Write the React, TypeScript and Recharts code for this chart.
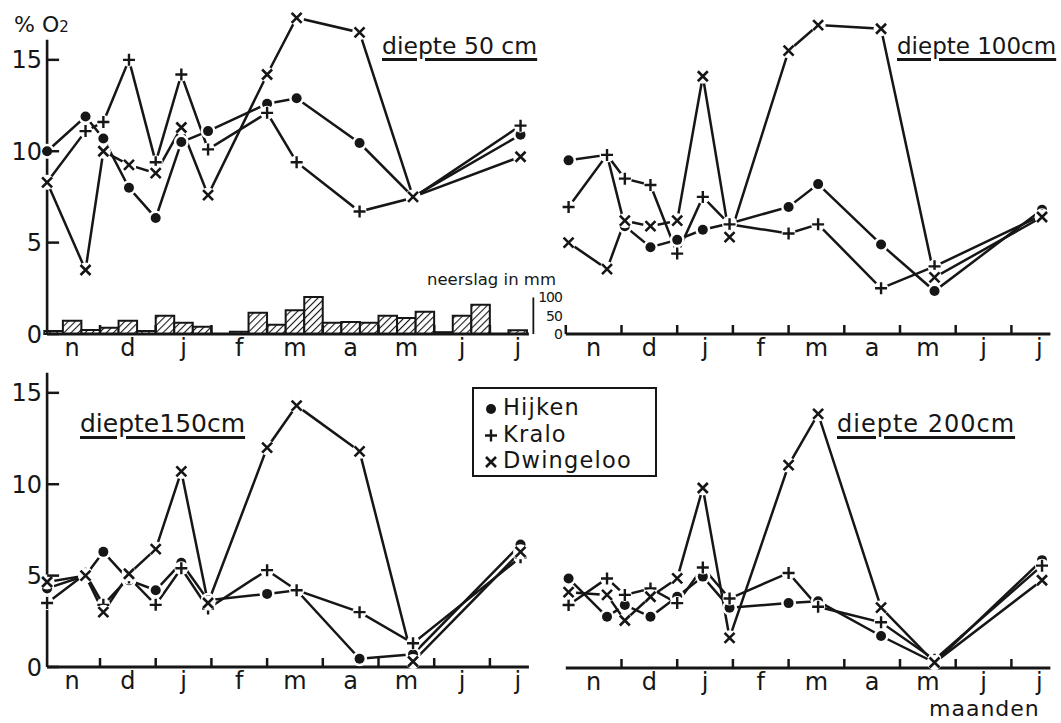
import React from "react";
import { ComposedChart, Line, Bar, XAxis, YAxis, ReferenceLine } from "recharts";

// sampling dates, in months counted from 1 November
const monthLabels = ["n", "d", "j", "f", "m", "a", "m", "j", "j"];
const sampleMonths = [0.05, 0.74, 1.06, 1.52, 2.0, 2.46, 2.94, 4.0, 4.53, 5.66, 6.62, 8.55];
const o2Ticks = [0, 5, 10, 15];
const precipTicks = [0, 50, 100];

// % O2 per depth and site
const hijken50 = [10.0, 11.9, 10.7, 8.0, 6.35, 10.5, 11.1, 12.6, 12.9, 10.45, 7.5, 10.9];
const kralo50 = [8.3, 11.1, 11.6, 15.0, 9.4, 14.2, 10.1, 12.1, 9.4, 6.7, 7.45, 11.4];
const dwingeloo50 = [8.3, 3.5, 10.0, 9.25, 8.8, 11.3, 7.6, 14.2, 17.3, 16.5, 7.5, 9.7];

const hijken100 = [9.5, 9.8, 5.9, 4.75, 5.15, 5.7, 6.05, 6.95, 8.2, 4.9, 2.35, 6.8];
const kralo100 = [6.95, 9.8, 8.5, 8.15, 4.4, 7.5, 6.0, 5.5, 6.0, 2.5, 3.7, 6.5];
const dwingeloo100 = [5.0, 3.55, 6.2, 5.9, 6.2, 14.1, 5.3, 15.5, 16.9, 16.7, 3.1, 6.4];

const hijken150 = [4.3, 5.0, 6.3, 4.75, 4.2, 5.7, 3.65, 4.0, 4.2, 0.45, 0.7, 6.7];
const kralo150 = [3.5, 5.1, 3.4, 4.9, 3.4, 5.4, 3.2, 5.3, 4.2, 3.0, 1.3, 6.0];
const dwingeloo150 = [4.65, 5.0, 3.0, 5.1, 6.45, 10.7, 3.5, 12.0, 14.3, 11.8, 0.3, 6.3];

const hijken200 = [4.9, 2.8, 3.45, 2.8, 3.9, 5.0, 3.3, 3.55, 3.65, 1.75, 0.3, 5.9];
const kralo200 = [3.45, 4.9, 4.0, 4.35, 3.55, 5.5, 3.8, 5.2, 3.35, 2.5, 0.45, 5.6];
const dwingeloo200 = [4.15, 4.0, 2.6, 3.9, 4.9, 9.85, 1.65, 11.1, 13.9, 3.3, 0.3, 4.8];

// neerslag per decade (mm), nov .. jul
const precipMm = [8, 36, 11, 17, 36, 8, 50, 31, 20, 0, 6, 58, 25, 65, 101, 31, 33, 31, 50, 44, 61, 5, 50, 80, 0, 10];

const INK = "#161616";
const FONT = "'DejaVu Sans', sans-serif";

const toPoints = (vals: number[]) => sampleMonths.map((m, i) => ({ m, v: vals[i] }));
const precipData = precipMm.map((mm, i) => ({ m: (i + 0.5) / 3, mm }));

function DotMark({ cx, cy }: any) {
  return (
    <g>
      <circle cx={cx} cy={cy} r={7.5} fill="#fff" />
      <circle cx={cx} cy={cy} r={5} fill={INK} />
    </g>
  );
}

function PlusMark({ cx, cy }: any) {
  const s = 6;
  return (
    <g>
      <circle cx={cx} cy={cy} r={7} fill="#fff" />
      <path d={`M${cx - s},${cy}H${cx + s}M${cx},${cy - s}V${cy + s}`} stroke={INK} strokeWidth={2.4} />
    </g>
  );
}

function CrossMark({ cx, cy }: any) {
  const s = 5;
  return (
    <g>
      <circle cx={cx} cy={cy} r={7.5} fill="#fff" />
      <path
        d={`M${cx - s},${cy - s}L${cx + s},${cy + s}M${cx - s},${cy + s}L${cx + s},${cy - s}`}
        stroke={INK}
        strokeWidth={2.6}
      />
    </g>
  );
}

const series = [
  { name: "Hijken", Mark: DotMark },
  { name: "Kralo", Mark: PlusMark },
  { name: "Dwingeloo", Mark: CrossMark },
];

const monthTick = (p: any) => {
  const v = p.payload.value;
  if (Number.isInteger(v)) {
    return <line x1={p.x} y1={p.y} x2={p.x} y2={p.y - 9} stroke={INK} strokeWidth={2.5} />;
  }
  return (
    <text x={p.x} y={p.y + 22} textAnchor="middle" fontSize={24} fontFamily={FONT} fill={INK}>
      {monthLabels[Math.floor(v)]}
    </text>
  );
};

const o2Tick = (p: any) => (
  <g>
    <line x1={p.x} y1={p.y} x2={p.x + 12} y2={p.y} stroke={INK} strokeWidth={2.5} />
    <text x={p.x - 5} y={p.y} dy="0.36em" textAnchor="end" fontSize={24} fontFamily={FONT} fill={INK}>
      {p.payload.value}
    </text>
  </g>
);

const mmTick = (p: any) => (
  <text x={p.x + 33} y={p.y} dy="0.36em" textAnchor="end" fontSize={14} letterSpacing={-1} fontFamily={FONT} fill={INK}>
    {p.payload.value}
  </text>
);

type PanelProps = {
  left: number;
  top: number;
  width: number;
  margin: { top: number; right: number; bottom: number; left: number };
  domain: [number, number];
  values: number[][];
  yAxis?: boolean;
  zeroTick?: boolean;
  bars?: boolean;
};

function Panel({ left, top, width, margin, domain, values, yAxis, zeroTick, bars }: PanelProps) {
  const lines = values.map(toPoints);
  const ticks: number[] = [];
  if (zeroTick) ticks.push(0);
  monthLabels.forEach((_, i) => {
    ticks.push(i + 0.5);
    if (i < monthLabels.length - 1) ticks.push(i + 1);
  });
  return (
    <div style={{ position: "absolute", left, top }}>
      <ComposedChart width={width} height={364} margin={margin} data={bars ? precipData : undefined}>
        <defs>
          <pattern id="hatch" patternUnits="userSpaceOnUse" width={5} height={5} patternTransform="rotate(45)">
            <rect width={5} height={5} fill="#fff" />
            <line x1={0} y1={0} x2={0} y2={5} stroke={INK} strokeWidth={2.2} />
          </pattern>
        </defs>
        <XAxis
          type="number"
          dataKey="m"
          domain={domain}
          ticks={ticks}
          interval={0}
          height={30}
          tickSize={0}
          tickMargin={0}
          tickLine={false}
          axisLine={{ stroke: INK, strokeWidth: 3 }}
          tick={monthTick}
        />
        {bars && <XAxis xAxisId="pr" type="number" dataKey="m" domain={domain} hide />}
        <YAxis
          yAxisId="o2"
          type="number"
          domain={[0, 18]}
          ticks={o2Ticks}
          interval={0}
          hide={!yAxis}
          width={40}
          tickSize={0}
          tickMargin={0}
          tickLine={false}
          axisLine={false}
          tick={o2Tick}
        />
        {bars && (
          <YAxis
            yAxisId="mm"
            orientation="right"
            type="number"
            domain={[0, 900]}
            ticks={precipTicks}
            interval={0}
            width={35}
            tickSize={0}
            tickMargin={0}
            tickLine={false}
            axisLine={false}
            tick={mmTick}
          />
        )}
        {bars && (
          <Bar
            xAxisId="pr"
            yAxisId="mm"
            dataKey="mm"
            barSize={18.5}
            fill="url(#hatch)"
            stroke={INK}
            strokeWidth={2}
            isAnimationActive={false}
          />
        )}
        {bars && (
          <ReferenceLine
            yAxisId="mm"
            ifOverflow="visible"
            segment={[{ x: 8.78, y: 0 }, { x: 8.78, y: 100 }]}
            stroke={INK}
            strokeWidth={1.8}
          />
        )}
        {yAxis && (
          <ReferenceLine
            yAxisId="o2"
            segment={[{ x: domain[0], y: 0 }, { x: domain[0], y: 16.1 }]}
            stroke={INK}
            strokeWidth={2.6}
          />
        )}
        {lines.map((d, i) => (
          <Line
            key={"l" + i}
            yAxisId="o2"
            data={d}
            dataKey="v"
            type="linear"
            stroke={INK}
            strokeWidth={2.5}
            dot={false}
            activeDot={false}
            isAnimationActive={false}
          />
        ))}
        {lines.map((d, i) => {
          const Mark = series[i].Mark;
          return (
            <Line
              key={"d" + i}
              yAxisId="o2"
              data={d}
              dataKey="v"
              stroke="none"
              dot={(p: any) => <Mark key={p.index} cx={p.cx} cy={p.cy} />}
              activeDot={false}
              isAnimationActive={false}
            />
          );
        })}
      </ComposedChart>
    </div>
  );
}

function Label({ left, baseline, size, children, style }: any) {
  return (
    <div
      style={{
        position: "absolute",
        left,
        top: baseline - 0.846 * size,
        fontSize: size,
        lineHeight: 1,
        fontFamily: FONT,
        color: INK,
        whiteSpace: "nowrap",
        ...style,
      }}
    >
      {children}
    </div>
  );
}

const underline = {
  textDecoration: "underline",
  textDecorationThickness: "3px",
  textUnderlineOffset: "4px",
};

export default function App() {
  const leftMargin = { top: 5, right: 5, bottom: 0, left: 7.1 };
  const rightMargin = { top: 5, right: 5, bottom: 0, left: 25.8 };
  return (
    <div style={{ position: "absolute", left: 0, top: 0, width: 1061, height: 723, background: "#fff", overflow: "hidden" }}>
      <Panel left={0} top={0} width={568.9} margin={{ ...leftMargin, right: 5 }} domain={[0.05, 8.7]} values={[hijken50, kralo50, dwingeloo50]} yAxis bars />
      <Panel left={540} top={0} width={515.4} margin={rightMargin} domain={[0, 8.7]} values={[hijken100, kralo100, dwingeloo100]} zeroTick />
      <Panel left={0} top={333} width={533.9} margin={leftMargin} domain={[0.05, 8.7]} values={[hijken150, kralo150, dwingeloo150]} yAxis />
      <Panel left={540} top={334} width={515.4} margin={rightMargin} domain={[0, 8.7]} values={[hijken200, kralo200, dwingeloo200]} />

      <Label left={14} baseline={33} size={22}>
        % O<span style={{ fontSize: 15 }}>2</span>
      </Label>
      <Label left={382} baseline={55} size={23.5} style={underline}>diepte 50 cm</Label>
      <Label left={897} baseline={54} size={23} style={underline}>diepte 100cm</Label>
      <Label left={80} baseline={432} size={25} style={underline}>diepte150cm</Label>
      <Label left={837} baseline={432} size={24} style={{ ...underline, letterSpacing: 1 }}>diepte 200cm</Label>
      <Label left={427} baseline={286} size={16.5}>neerslag in mm</Label>
      <Label left={929} baseline={716.5} size={22} style={{ letterSpacing: 1 }}>maanden</Label>

      <div
        style={{
          position: "absolute",
          left: 472,
          top: 387,
          width: 185,
          height: 90,
          boxSizing: "border-box",
          border: `2.5px solid ${INK}`,
          background: "#fff",
        }}
      >
        {series.map((s, i) => (
          <div key={s.name} style={{ position: "absolute", left: 8, top: 7, transform: `translateY(${i * 26.5}px)`, display: "flex", alignItems: "center" }}>
            <svg width={18} height={22}>
              <s.Mark cx={9} cy={13} />
            </svg>
            <span style={{ fontFamily: FONT, fontSize: 22.5, lineHeight: "22px", color: INK, marginLeft: 3, letterSpacing: 1.2 }}>
              {s.name}
            </span>
          </div>
        ))}
      </div>
    </div>
  );
}
